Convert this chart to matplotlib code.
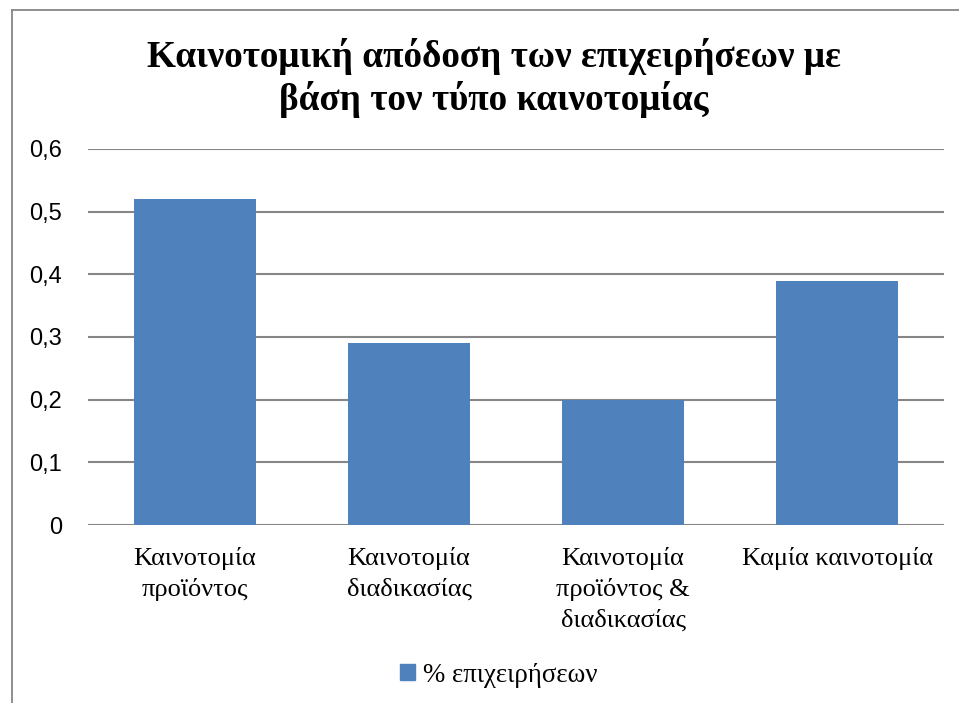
import matplotlib
matplotlib.use("Agg")
import matplotlib.pyplot as plt
from matplotlib.lines import Line2D
from matplotlib.patches import Patch
from matplotlib.ticker import FixedLocator

categories = ["Καινοτομία\nπροϊόντος", "Καινοτομία\nδιαδικασίας",
              "Καινοτομία\nπροϊόντος &\nδιαδικασίας", "Καμία καινοτομία"]
values = [0.52, 0.29, 0.20, 0.39]
yticks = [0, 0.1, 0.2, 0.3, 0.4, 0.5, 0.6]
ytick_labels = ["0", "0,1", "0,2", "0,3", "0,4", "0,5", "0,6"]
series_name = "% επιχειρήσεων"
title = "Καινοτομική απόδοση των επιχειρήσεων με\nβάση τον τύπο καινοτομίας"

W, H = 959, 703
fig = plt.figure(figsize=(W / 100, H / 100), dpi=100)
fig.patch.set_facecolor("white")

ax = fig.add_axes([88 / W, 1 - 525 / H, (944 - 88) / W, (525 - 149) / H])
bar_color = "#4F81BD"
x = list(range(len(categories)))
ax.bar(x, values, width=0.57, color=bar_color, zorder=3)
ax.set_xlim(-0.5, len(categories) - 0.5)
ax.set_ylim(0, 0.6)
ax.yaxis.set_major_locator(FixedLocator(yticks))
ax.set_yticklabels(ytick_labels, fontfamily="Liberation Sans", fontsize=17)
ax.set_xticks(x)
ax.set_xticklabels(categories, fontfamily="Liberation Serif", fontsize=19,
                   linespacing=1.45, va="top")
ax.tick_params(axis="y", length=0, pad=18.5)
ax.tick_params(axis="x", length=0, pad=16)
for s in ["top", "right", "left", "bottom"]:
    ax.spines[s].set_visible(False)
ax.grid(axis="y", color="#868686", linewidth=1.5, zorder=0)
ax.set_axisbelow(True)

fig.text(494 / W, 1 - 78 / H, title, ha="center", va="center",
         fontfamily="Liberation Serif", fontweight="bold", fontsize=26.8,
         linespacing=1.24)

handles = [Patch(facecolor=bar_color, edgecolor=bar_color, label=series_name)]
fig.legend(handles=handles, loc="center", bbox_to_anchor=(499 / W, 1 - 675 / H),
           frameon=False, prop={"family": "Liberation Serif", "size": 19.4},
           handlelength=0.55, handleheight=0.55, handletextpad=0.3)

# outer border (chart area frame)
fig.add_artist(Line2D([12 / W, 12 / W], [0, 1 - 10 / H], color="#868686",
                      linewidth=1.3, transform=fig.transFigure))
fig.add_artist(Line2D([12 / W, 1], [1 - 10 / H, 1 - 10 / H], color="#868686",
                      linewidth=1.3, transform=fig.transFigure))

fig.savefig("out.png", dpi=100)
